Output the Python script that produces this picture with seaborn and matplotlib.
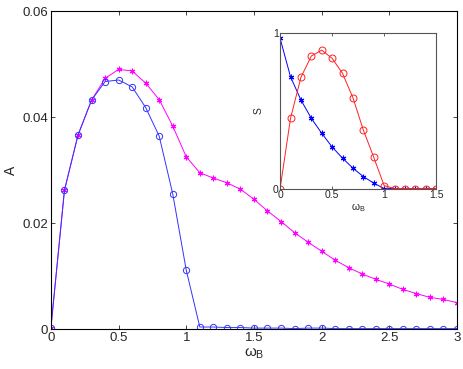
import numpy as np
import pandas as pd
import matplotlib
matplotlib.use('Agg')
import matplotlib.pyplot as plt
import seaborn as sns

# main panel: A vs omega_B
omega = np.round(np.arange(0, 3.01, 0.1), 1)
a_star = [0.0003, 0.0262, 0.0366, 0.0432, 0.0473, 0.0490, 0.0487, 0.0464, 0.0433, 0.0383,
          0.0325, 0.0295, 0.0285, 0.0276, 0.0264, 0.0245, 0.0223, 0.0203, 0.0182, 0.0164,
          0.0147, 0.0130, 0.0116, 0.0104, 0.0094, 0.0085, 0.0075, 0.0067, 0.0060, 0.0056,
          0.0050]
a_circ = [0.0003, 0.0262, 0.0366, 0.0432, 0.0467, 0.0470, 0.0457, 0.0418, 0.0364, 0.0255,
          0.0111, 0.0004, 0.0004, 0.0003, 0.0003, 0.0002, 0.0002, 0.0002, 0.0001, 0.0002,
          0.0002, 0.0001, 0.0001, 0.0001, 0.0001, 0.0001, 0.0001, 0.0001, 0.0001, 0.0001,
          0.0001]

# inset: S vs omega_B
omega_in = np.round(np.arange(0, 1.51, 0.1), 1)
s_star = [0.964, 0.718, 0.569, 0.451, 0.355, 0.267, 0.195, 0.131, 0.077, 0.035,
          0.0, 0.0, 0.0, 0.0, 0.0, 0.0]
s_circ = [0.0, 0.451, 0.714, 0.851, 0.889, 0.836, 0.740, 0.583, 0.376, 0.201,
          0.019, 0.0, 0.0, 0.0, 0.0, 0.0]

sns.set_style('ticks')
plt.rcParams['font.family'] = ['Liberation Sans', 'DejaVu Sans']
plt.rcParams['mathtext.fontset'] = 'custom'
plt.rcParams['mathtext.rm'] = 'Liberation Sans'
plt.rcParams['mathtext.it'] = 'Liberation Sans'

fig = plt.figure(figsize=(4.63, 3.69), dpi=100)
ax = fig.add_axes([0.110, 0.108, 0.877, 0.862])

star = (6, 2, 0)
sns.lineplot(x=omega, y=a_star, ax=ax, color='#ff00ff', lw=0.7, marker=star,
             markersize=4, markeredgewidth=0.8, markeredgecolor='#ff00ff')
sns.lineplot(x=omega, y=a_circ, ax=ax, color='#3333ff', lw=0.7, marker='o',
             markersize=4.5, markerfacecolor='none', markeredgewidth=0.7,
             markeredgecolor='#3333ff')

ax.set_xlim(0, 3)
ax.set_ylim(0, 0.06)
ax.set_xticks([0, 0.5, 1, 1.5, 2, 2.5, 3])
ax.set_xticklabels(['0', '0.5', '1', '1.5', '2', '2.5', '3'])
ax.set_yticks([0, 0.02, 0.04, 0.06])
ax.set_yticklabels(['0', '0.02', '0.04', '0.06'])
ax.tick_params(direction='in', length=3, width=0.6, labelsize=9.5, top=True, right=True, pad=2)
for s in ax.spines.values():
    s.set_linewidth(0.8)
    s.set_color('black')
ax.set_xlabel(r'$\omega_\mathrm{B}$', fontsize=11, labelpad=2)
ax.set_ylabel('A', fontsize=10, labelpad=3)

ins = fig.add_axes([0.605, 0.489, 0.337, 0.422])
sns.lineplot(x=omega_in, y=s_star, ax=ins, color='#0000ff', lw=0.7, marker=star,
             markersize=4, markeredgewidth=0.8, markeredgecolor='#0000ff')
sns.lineplot(x=omega_in, y=s_circ, ax=ins, color='#ff2020', lw=0.7, marker='o',
             markersize=5, markerfacecolor='none', markeredgewidth=0.7,
             markeredgecolor='#ff2020')
ins.set_xlim(0, 1.5)
ins.set_ylim(0, 1)
ins.set_xticks([0, 0.5, 1, 1.5])
ins.set_xticklabels(['0', '0.5', '1', '1.5'])
ins.set_yticks([0, 1])
ins.set_yticklabels(['0', '1'])
ins.tick_params(direction='in', length=2, width=0.5, labelsize=7.5, top=True, right=True, pad=1)
for s in ins.spines.values():
    s.set_linewidth(0.8)
    s.set_color('#555555')
ins.set_xlabel(r'$\omega_\mathrm{B}$', fontsize=7.5, labelpad=1)
ins.set_ylabel('S', fontsize=7.5, labelpad=7)

fig.savefig('out.png', dpi=100)
